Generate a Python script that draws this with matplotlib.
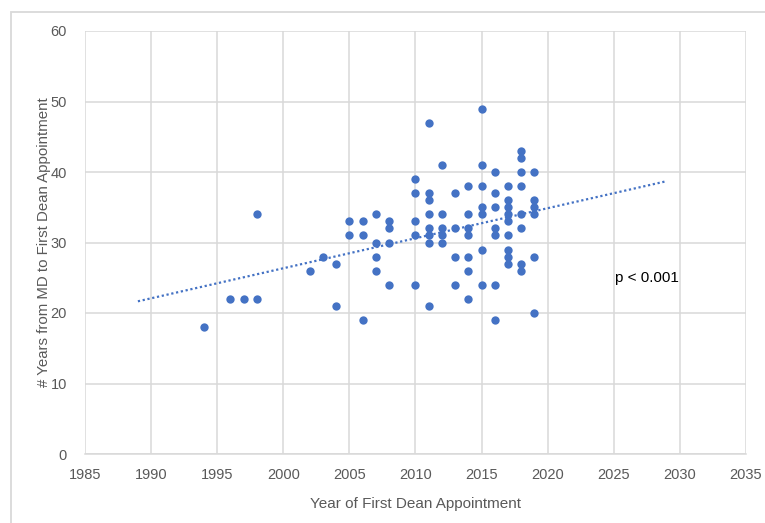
import numpy as np
import matplotlib
matplotlib.use("Agg")
import matplotlib.pyplot as plt
from matplotlib.patches import Rectangle

# Data: (year of first dean appointment, years from MD to first dean appointment)
years = [1994, 1996, 1997, 1998, 1998,
         2002, 2003, 2004, 2004,
         2005, 2005, 2006, 2006, 2006,
         2007, 2007, 2007, 2007,
         2008, 2008, 2008, 2008,
         2010, 2010, 2010, 2010, 2010,
         2011, 2011, 2011, 2011, 2011, 2011, 2011, 2011,
         2012, 2012, 2012, 2012, 2012,
         2013, 2013, 2013, 2013,
         2014, 2014, 2014, 2014, 2014, 2014, 2014,
         2015, 2015, 2015, 2015, 2015, 2015, 2015,
         2016, 2016, 2016, 2016, 2016, 2016, 2016,
         2017, 2017, 2017, 2017, 2017, 2017, 2017, 2017, 2017,
         2018, 2018, 2018, 2018, 2018, 2018, 2018, 2018,
         2019, 2019, 2019, 2019, 2019, 2019]
gap = [18, 22, 22, 22, 34,
       26, 28, 27, 21,
       33, 31, 33, 31, 19,
       34, 30, 28, 26,
       33, 32, 30, 24,
       39, 37, 33, 31, 24,
       47, 37, 36, 34, 32, 31, 30, 21,
       41, 34, 32, 31, 30,
       37, 32, 28, 24,
       38, 34, 32, 31, 28, 26, 22,
       49, 41, 38, 35, 34, 29, 24,
       40, 37, 35, 32, 31, 24, 19,
       38, 36, 35, 34, 33, 31, 29, 28, 27,
       43, 42, 40, 38, 34, 32, 27, 26,
       40, 36, 35, 34, 28, 20]

trend_range = [1989, 2029]
x_ticks = list(range(1985, 2036, 5))
y_ticks = list(range(0, 61, 10))
annotation = "p < 0.001"

blue = "#4472C4"
grid = "#d9d9d9"
txt = "#595959"
fam = ["Liberation Sans Narrow", "Liberation Sans", "DejaVu Sans"]

fig = plt.figure(figsize=(7.65, 5.23), dpi=100)
W, H = 765, 523
ax = fig.add_axes([85 / W, 1 - 454 / H, (746 - 85) / W, (454 - 31) / H])

# outer chart border
fig.patches.append(Rectangle((11 / W, -0.05), 1.2, 1 - 12 / H + 0.05,
                             transform=fig.transFigure, fill=False,
                             edgecolor=grid, linewidth=1.3))

ax.scatter(years, gap, s=36, color=blue, zorder=3, linewidths=0)

coef = np.polyfit(years, gap, 1)
tx = np.array(trend_range, dtype=float)
ax.plot(tx, np.polyval(coef, tx), linestyle=(0, (1, 1.2)), color=blue,
        linewidth=1.6, zorder=2)

ax.set_xlim(x_ticks[0], x_ticks[-1])
ax.set_ylim(y_ticks[0], y_ticks[-1])
ax.set_xticks(x_ticks)
ax.set_yticks(y_ticks)
ax.grid(True, color=grid, linewidth=1.1)
ax.set_axisbelow(True)
for side in ["top", "right", "left"]:
    ax.spines[side].set_visible(False)
ax.spines["bottom"].set_color(grid)
ax.spines["bottom"].set_linewidth(1.1)
ax.tick_params(length=0, colors=txt, labelsize=10.5, pad=10)
ax.tick_params(axis="y", pad=13)
for lab in ax.get_xticklabels() + ax.get_yticklabels():
    lab.set_family(fam)

ax.set_xlabel("Year of First Dean Appointment", fontsize=11, color=txt,
              family=fam, labelpad=11)
ax.set_ylabel("# Years from MD to First Dean Appointment", fontsize=10.8,
              color=txt, family=fam, labelpad=0)

ax.text(2025.1, 24.9, annotation, fontsize=11, color="black", family=fam,
        va="center", ha="left")

fig.savefig("out.png", dpi=100)
